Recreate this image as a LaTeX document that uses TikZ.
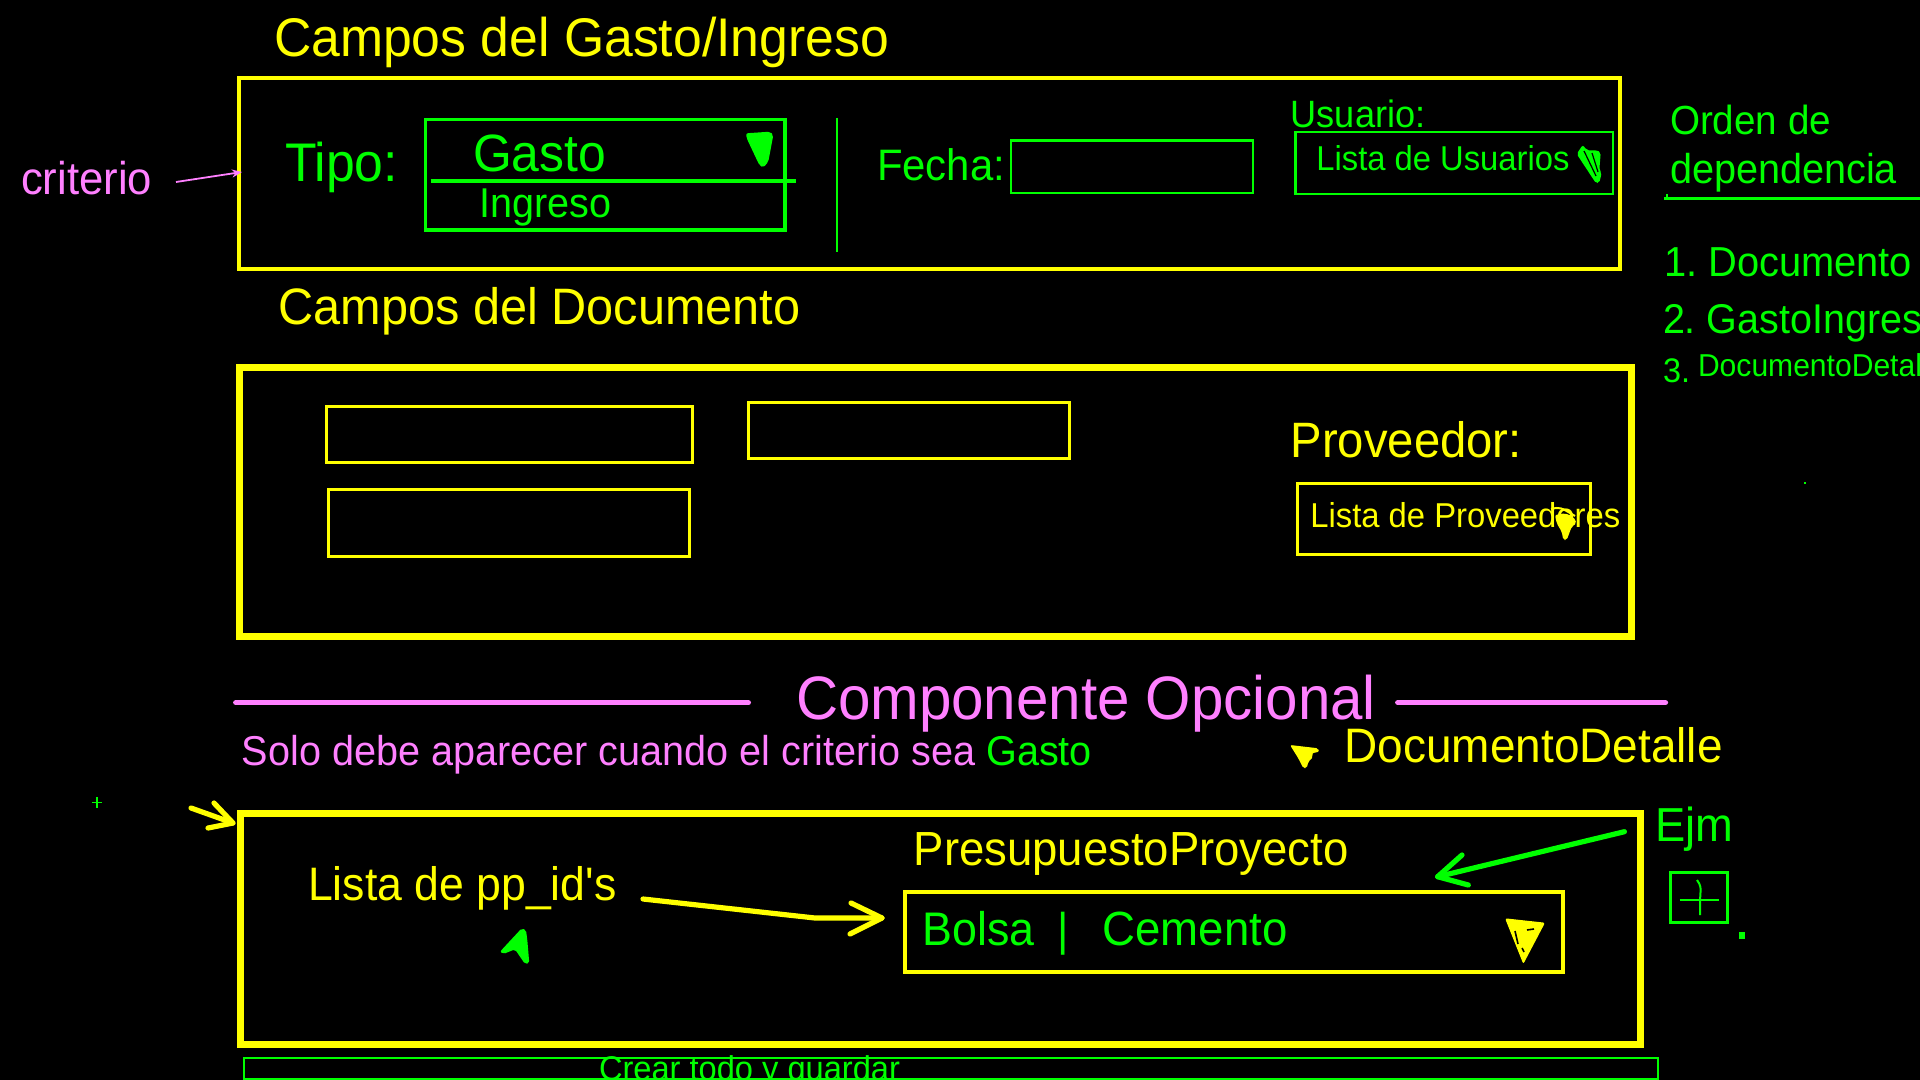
\documentclass[tikz,border=0pt]{standalone}
\usepackage{fontspec}
\setmainfont{Liberation Sans}[FakeStretch=0.95]
\usepackage{graphicx}
\usetikzlibrary{arrows.meta}
\definecolor{ylw}{HTML}{FFFF00}
\definecolor{grn}{HTML}{00FF00}
\definecolor{pnk}{HTML}{FF80FF}
\newcommand{\fw}[2]{\resizebox{\dimexpr #1pt/2\relax}{!}{#2}}
\frenchspacing
\begin{document}
\begin{tikzpicture}[x=0.5pt,y=-0.5pt,
  txt/.style={inner sep=0pt, outer sep=0pt, anchor=base west},
  ybox/.style={draw=ylw, line width=#1},
  gbox/.style={draw=grn, line width=#1},
  thickarrow/.style={line width=2.6pt, line cap=round, line join=round},
  blob/.style={fill=#1, rounded corners=1pt}]
\fill[black] (0,0) rectangle (1920,1080);
\useasboundingbox (0,0) rectangle (1920,1080);
\clip (0,0) rectangle (1920,1080);

% ---------- Campos del Gasto/Ingreso ----------
\node[txt, text=ylw] (t1) at (274,57) {\fw{615}{Campos del Gasto/Ingreso}};
\draw[ybox=2pt] (239,78) rectangle (1620,269);
\coordinate (box1W) at (242,172);

\node[txt, text=pnk] (criterio) at (21,195) {\fw{131}{criterio}};
\coordinate (critStart) at (176,182);
\draw[pnk, line width=0.9pt, -{Stealth[length=5pt,width=4pt]}] (critStart) -- (box1W);

\node[txt, text=grn] (tipo) at (285,182) {\fw{113}{Tipo:}};
\draw[gbox=1.7pt] (425.6,119.3) rectangle (785,230);
\draw[grn, line width=1.7pt] (430.5,181) -- (796,181);
\node[txt, text=grn] (gasto) at (473,172) {\fw{133}{Gasto}};
\node[txt, text=grn] (ingreso) at (479,218) {\fw{132}{Ingreso}};
\fill[blob=grn] (746,133.3) -- (770,131.7) -- (773.3,135) -- (768.3,161.7) -- (763.3,167.7) -- (759.3,165) -- (746.7,138.3) -- cycle;

\draw[grn, line width=1pt] (836.5,118) -- (836.5,252);

\node[txt, text=grn] (fecha) at (877,181) {\fw{128}{Fecha:}};
\draw[gbox=1.2pt] (1011,140.7) rectangle (1252.7,193.3);

\node[txt, text=grn] (usuario) at (1290.7,128) {\fw{134.7}{Usuario:}};
\draw[gbox=1.2pt] (1295.6,132) rectangle (1612.8,194);
\node[txt, text=grn] (listau) at (1316.4,170.7) {\fw{253}{Lista de Usuarios}};
\fill[blob=grn] (1576.7,154) -- (1582.7,145) -- (1586.7,150) -- (1591.7,150.7) -- (1596.7,150) -- (1600.7,152.7) -- (1599.3,170) -- (1601.7,172.7) -- (1599.3,182.7) -- (1596,183.3) -- cycle;
\draw[black, line width=0.6pt] (1584,151) -- (1596,176);
\draw[black, line width=0.6pt] (1592,153) -- (1598,172);

% ---------- Orden de dependencia ----------
\node[txt, text=grn] (orden) at (1670,135) {\fw{161}{Orden de}};
\node[txt, text=grn] (dep) at (1670,184) {\fw{227}{dependencia}};
\draw[grn, line width=1.5pt] (1664,199) -- (1920,199);
\draw[grn, line width=1pt] (1667,194) -- (1667,199);
\node[txt, text=grn] (ord1) at (1664,277) {\fw{248}{1. Documento}};
\node[txt, text=grn] (ord2) at (1663,334) {\fw{259}{2. GastoIngres}};
\node[txt, text=grn] (ord3n) at (1663,382) {\fw{27}{3.}};
\node[txt, text=grn] (ord3) at (1698,377) {\fw{224}{DocumentoDetal}};
\fill[grn] (1804,481.7) rectangle (1806,483.7);

% ---------- Campos del Documento ----------
\node[txt, text=ylw] (t2) at (278.6,324.3) {\fw{522}{Campos del Documento}};
\draw[ybox=3.3pt] (239.5,367.5) rectangle (1631.5,636.3);
\draw[ybox=1.5pt] (326.4,406) rectangle (692,462);
\draw[ybox=1.5pt] (748.3,402) rectangle (1069,458.3);
\draw[ybox=1.5pt] (328.2,489) rectangle (689.5,556);
\node[txt, text=ylw] (prov) at (1290.7,457.7) {\fw{231}{Proveedor:}};
\draw[ybox=1.5pt] (1297.4,483.7) rectangle (1590.8,554);
\node[txt, text=ylw] (listap) at (1310.3,527.3) {\fw{310}{Lista de Proveedores}};
\fill[blob=ylw] (1555,515) -- (1565,513.3) -- (1573.3,516.7) -- (1576.7,523.3) -- (1571.7,526.7) -- (1566.7,540) -- (1563.3,540) -- (1561.7,531.7) -- (1556.7,523.3) -- cycle;
\draw[ylw, line width=1pt] (1551,509) .. controls (1560,507) .. (1575,516);

% ---------- Componente Opcional ----------
\draw[pnk, line width=2.7pt, line cap=round] (235.8,702.7) -- (748.3,702.7);
\node[txt, text=pnk] (compo) at (796,719.3) {\fw{580}{Componente Opcional}};
\draw[pnk, line width=2.7pt, line cap=round] (1397.8,702.7) -- (1665.4,702.7);
\node[txt, text=pnk] (solo) at (241.9,765) {\fw{850}{Solo debe aparecer cuando el criterio sea \textcolor{grn}{Gasto}}};
\fill[blob=ylw] (1290,745) -- (1318.3,748.3) -- (1319.3,751.7) -- (1311.7,753.3) -- (1313.3,756.7) -- (1308.3,761.7) -- (1306.7,768.3) -- (1303.3,768.3) -- (1298.3,758.3) -- cycle;
\node[txt, text=ylw] (docdet) at (1344.6,762.7) {\fw{378}{DocumentoDetalle}};

\draw[grn, line width=0.6pt] (92,802.7) -- (102,802.7) (97,797) -- (97,808);

% ---------- PresupuestoProyecto box ----------
\draw[ybox=3.5pt] (240.4,813) rectangle (1640.6,1044.7);
\coordinate (cornerStart) at (191,808);
\coordinate (cornerTip) at (233,823);
\draw[ylw, thickarrow] (cornerStart) -- (cornerTip);
\draw[ylw, thickarrow] (214,803) -- (cornerTip) -- (208,828);

\node[txt, text=ylw] (listapp) at (308,900.7) {\fw{309}{Lista de pp\_id\textquotesingle s}};
\fill[blob=grn] (500,951.7) -- (521.7,928.3) -- (526,930) -- (527.3,940) -- (529.3,963.3) -- (525,964) -- (515,949.3) -- (503.3,954) -- cycle;

\node[txt, text=ylw] (presu) at (913.7,865) {\fw{435}{PresupuestoProyecto}};
\draw[ybox=2pt] (905,892) rectangle (1563,972);
\node[txt, text=grn] (bolsa) at (922.8,945) {\fw{112}{Bolsa}};
\node[inner sep=0pt, anchor=base, text=grn, font=\fontsize{23}{23}\selectfont] (bar) at (1063,945) {|};
\node[txt, text=grn] (cemento) at (1102.7,945) {\fw{185}{Cemento}};
\fill[blob=ylw] (1505,918.3) -- (1545,922.7) -- (1523.3,964) -- cycle;
\draw[black, line width=0.8pt] (1515,931) -- (1518,944);
\draw[black, line width=0.8pt] (1527,930) -- (1534,929);
\draw[black, line width=0.8pt] (1522,948) -- (1524,952);

\coordinate (ppStart) at (643,899);
\coordinate (ppBend) at (815,918);
\coordinate (ppTip) at (882,918);
\draw[ylw, thickarrow] (ppStart) -- (ppBend) -- (ppTip);
\draw[ylw, thickarrow] (851,903) -- (ppTip) -- (850,934);

\node[txt, text=grn] (ejm) at (1655,841.7) {\fw{78}{Ejm}};
\coordinate (ejmStart) at (1624.4,831.7);
\coordinate (ejmTip) at (1437.6,876.7);
\draw[grn, thickarrow] (ejmStart) -- (ejmTip);
\draw[grn, thickarrow] (1462,855) -- (ejmTip) -- (1468.3,885);

\draw[gbox=1.6pt] (1670.3,872.3) rectangle (1727.3,922.7);
\draw[grn, line width=1pt] (1679.5,900) -- (1719,900);
\draw[grn, line width=1pt] (1697,880) .. controls (1701,886) .. (1700,900) -- (1700,915);
\fill[grn] (1738.5,932) rectangle (1744.5,938.5);

% ---------- bottom button ----------
\draw[gbox=1pt] (244,1058) rectangle (1658,1079);
\node[txt, text=grn] (crear) at (599,1080) {\fw{301}{Crear todo y guardar}};
\end{tikzpicture}
\end{document}
